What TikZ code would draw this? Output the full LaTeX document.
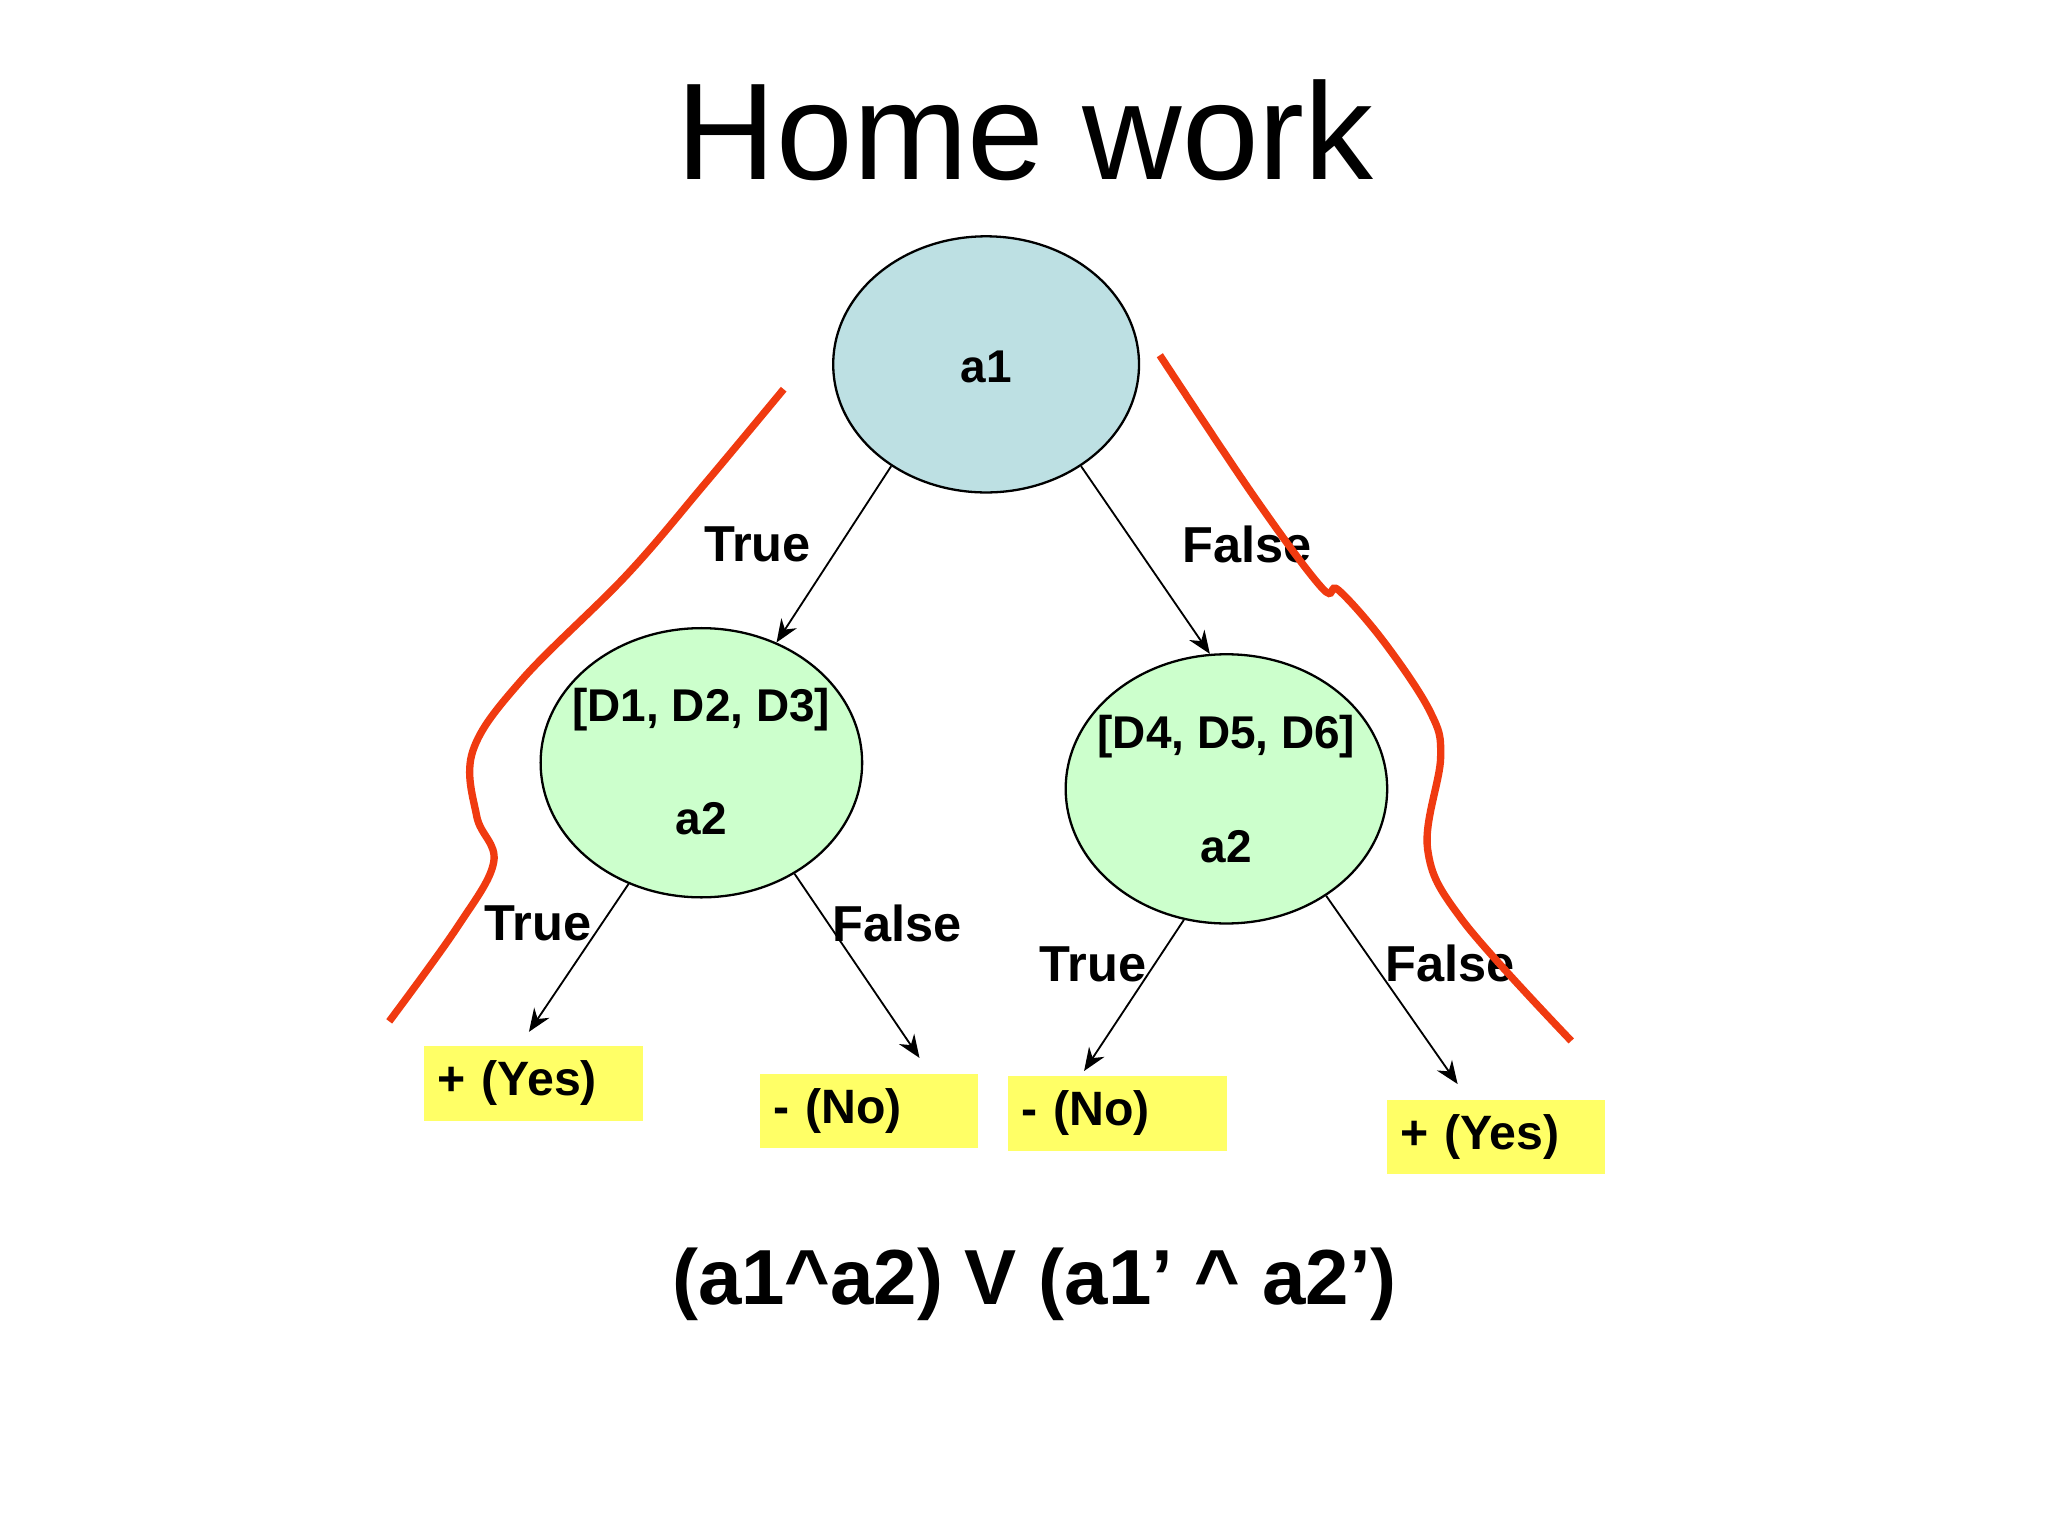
\documentclass[tikz,border=0pt]{standalone}
\usepackage{fontspec}
\setmainfont{Liberation Sans}
\usetikzlibrary{shapes.geometric,arrows.meta}
\definecolor{rootc}{HTML}{BDE0E3}
\definecolor{leafc}{HTML}{CCFFCC}
\definecolor{yel}{HTML}{FFFF66}
\definecolor{redc}{HTML}{F03A10}
\begin{document}
\begin{tikzpicture}[x=0.01cm,y=-0.01cm,
  ell/.style={ellipse,draw,line width=0.5pt,inner sep=0pt},
  lbl/.style={font=\bfseries\fontsize{10pt}{12pt}\selectfont},
  box/.style={fill=yel,minimum width=1.67cm,minimum height=0.57cm,inner sep=0pt,font=\bfseries\fontsize{10.5pt}{12pt}\selectfont},
  arr/.style={-{Stealth[length=5pt,width=4pt]},line width=0.4pt},
  redl/.style={redc,line width=1.6pt}]
\useasboundingbox (0,0) rectangle (1568,1174);
\node (title) at (785,100) {\fontsize{30pt}{34pt}\selectfont Home work};
\node[ell,fill=rootc,minimum width=2.34cm,minimum height=1.96cm] (root) at (755,279) {};
\node[lbl] (rt) at (755,281) {a1};
\node[ell,fill=leafc,minimum width=2.46cm,minimum height=2.06cm] (L) at (537,584) {};
\node[lbl] (Lt1) at (537,543) {[D1, D2, D3]};
\node[lbl] (Lt2) at (537,627) {a2};
\node[ell,fill=leafc,minimum width=2.46cm,minimum height=2.06cm] (R) at (939,604) {};
\node[lbl] (Rt1) at (939,564) {[D4, D5, D6]};
\node[lbl] (Rt2) at (939,648) {a2};
\node[box,text width=1.47cm,align=left] (b1) at (408.5,829.5) {+ (Yes)};
\node[box,text width=1.47cm,align=left] (b2) at (665.5,850.5) {- (No)};
\node[box,text width=1.47cm,align=left] (b3) at (855.5,852.5) {- (No)};
\node[box,text width=1.47cm,align=left] (b4) at (1145.5,870.5) {+ (Yes)};
\coordinate (e1) at (405,790);
\coordinate (e2) at (704,810);
\coordinate (e3) at (830,820);
\coordinate (e4) at (1116,830);
\draw[arr] (root.227) -- (L.58);
\draw[arr] (root.-47) -- (R.97);
\draw[arr] (L.239) -- (e1);
\draw[arr] (L.-50) -- (e2);
\draw[arr] (R.252) -- (e3);
\draw[arr] (R.-47) -- (e4);
\node[lbl,font=\bfseries\fontsize{11pt}{12pt}\selectfont] (t1) at (580,417) {True};
\node[lbl,font=\bfseries\fontsize{11pt}{12pt}\selectfont] (f1) at (955,417) {False};
\node[lbl,font=\bfseries\fontsize{11pt}{12pt}\selectfont] (t2) at (412,707) {True};
\node[lbl,font=\bfseries\fontsize{11pt}{12pt}\selectfont] (f2) at (687,707) {False};
\node[lbl,font=\bfseries\fontsize{11pt}{12pt}\selectfont] (t3) at (837,738) {True};
\node[lbl,font=\bfseries\fontsize{11pt}{12pt}\selectfont] (f3) at (1110,738) {False};
\node (formula) at (792,983) {\bfseries\fontsize{17pt}{20pt}\selectfont (a1\string^a2) V (a1' \string^ a2')};
\draw[redl] plot[smooth,tension=0.6] coordinates {(600,298) (540,370) (480,440) (400,520) (362,575) (365,625) (378,660) (350,710) (298,782)};
\draw[redl] plot[smooth,tension=0.6] coordinates {(888,272) (960,380) (1012,450) (1025,452) (1060,492) (1095,545) (1103,580) (1093,650) (1120,705) (1203,797)};
\end{tikzpicture}
\end{document}
